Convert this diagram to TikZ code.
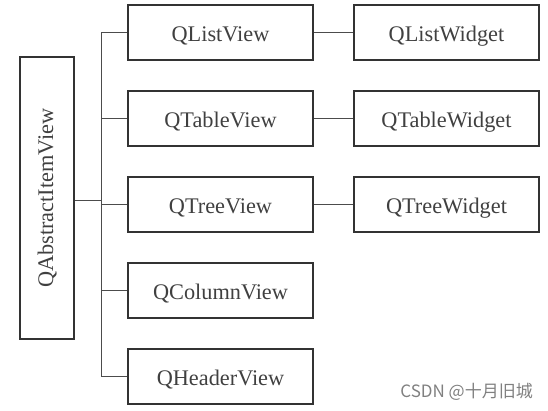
\documentclass[tikz,border=0pt]{standalone}
\usepackage{fontspec}
\setmainfont{Liberation Serif}
\newfontfamily\cjk{Noto Sans CJK SC}
\begin{document}
\begin{tikzpicture}[x=1pt,y=-1pt,
  box/.style={draw=black!80, line width=1.8pt, minimum width=185pt, minimum height=55pt, inner sep=0pt, text height=18pt, text depth=0pt, text=black!75, font=\fontsize{22.3}{24}\selectfont},
  link/.style={draw=black!70, line width=0.9pt}]
\useasboundingbox (0,0) rectangle (548,411);
\node[draw=black!80, line width=1.8pt, minimum width=282pt, minimum height=54pt, inner sep=0pt, text height=16pt, text depth=4pt, text=black!75, font=\fontsize{22.3}{24}\selectfont, rotate=90] (root) at (47,198) {QAbstractItemView};
\node[box] (lv) at (220.5,32.5) {QListView};
\node[box] (tv) at (220.5,118.5) {QTableView};
\node[box] (trv) at (220.5,204.5) {QTreeView};
\node[box] (cv) at (220.5,290.5) {QColumnView};
\node[box] (hv) at (220.5,376.5) {QHeaderView};
\node[box] (lw) at (446.5,32.5) {QListWidget};
\node[box] (tw) at (446.5,118.5) {QTableWidget};
\node[box] (trw) at (446.5,204.5) {QTreeWidget};
\coordinate (top) at (101,32.5);
\coordinate (bot) at (101,376.5);
\coordinate (mid) at (101,200);
\draw[link] (lv.west) -- (top) -- (bot) -- (hv.west);
\draw[link] (tv.west) -- (tv.west -| top);
\draw[link] (trv.west) -- (trv.west -| top);
\draw[link] (cv.west) -- (cv.west -| top);
\draw[link] (root.south |- mid) -- (mid);
\draw[link] (lv.east) -- (lw.west);
\draw[link] (tv.east) -- (tw.west);
\draw[link] (trv.east) -- (trw.west);
\node[anchor=east, text=black!50, font=\cjk\fontsize{17}{19}\selectfont, inner sep=0pt] (wm) at (533,392) {CSDN @十月旧城};
\end{tikzpicture}
\end{document}
